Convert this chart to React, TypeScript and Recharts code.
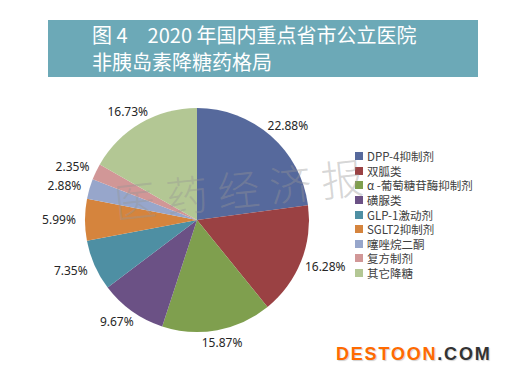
import React from 'react';
import { PieChart, Pie, Cell, Legend } from 'recharts';

const categories = ['DPP-4抑制剂', '双胍类', 'α -葡萄糖苷酶抑制剂', '磺脲类', 'GLP-1激动剂', 'SGLT2抑制剂', '噻唑烷二酮', '复方制剂', '其它降糖'];
const shares = [22.88, 16.28, 15.87, 9.67, 7.35, 5.99, 2.88, 2.35, 16.73];
const colors = ['#56699c', '#9a4143', '#7f9f4e', '#6b5185', '#4e8fa3', '#d5843d', '#97a6cb', '#d19797', '#b3c794'];
const titleLines = ['图 4　2020 年国内重点省市公立医院', '非胰岛素降糖药格局'];

const data = categories.map((name, i) => ({ name, value: shares[i] }));

const RADIAN = Math.PI / 180;

const renderLabel = (props: any) => {
  const { cx, cy, midAngle, outerRadius, value } = props;
  const dx = Math.cos(-midAngle * RADIAN);
  const dy = Math.sin(-midAngle * RADIAN);
  const r = outerRadius + 6;
  const w = 40;
  const h = 14;
  const x = cx + r * dx + (dx * w) / 2;
  const y = cy + r * dy + (dy * h) / 2;
  return (
    <text x={x} y={y} textAnchor="middle" dominantBaseline="central" fill="#262626" fontSize={12} fontFamily="'Noto Sans', sans-serif">
      {value.toFixed(2)}%
    </text>
  );
};

const renderLegend = (props: any) => {
  const payload = [...(props.payload || [])].sort(
    (a: any, b: any) => categories.indexOf(a.value) - categories.indexOf(b.value)
  );
  return (
    <div style={{ fontFamily: "'Noto Sans CJK SC', sans-serif", fontSize: 11.5, color: '#404040' }}>
      {payload.map((entry: any, i: number) => (
        <div key={i} style={{ display: 'flex', alignItems: 'center', height: 14.6, whiteSpace: 'nowrap' }}>
          <span style={{ display: 'inline-block', width: 8, height: 8, background: entry.color, marginRight: 4 }} />
          <span>{entry.value}</span>
        </div>
      ))}
    </div>
  );
};

export default function App() {
  return (
    <div style={{ position: 'absolute', left: 0, top: 0, width: 507, height: 381, background: '#fff', overflow: 'hidden' }}>
      <div
        style={{
          position: 'absolute',
          left: 48,
          top: 20,
          width: 430,
          height: 57,
          background: '#6ca9b7',
          color: '#fff',
          fontFamily: "'Noto Sans CJK SC', sans-serif",
          fontSize: 20,
          lineHeight: '27px',
          paddingLeft: 44,
          paddingTop: 1,
          boxSizing: 'border-box',
          whiteSpace: 'pre',
        }}
      >
        {titleLines.map((t, i) => (
          <div key={i}>{t}</div>
        ))}
      </div>
      <div style={{ position: 'absolute', left: 0, top: 0 }}>
        <PieChart width={507} height={381}>
          <Pie
            data={data}
            dataKey="value"
            nameKey="name"
            cx={192}
            cy={215}
            outerRadius={112}
            startAngle={90}
            endAngle={-270}
            stroke="none"
            label={renderLabel}
            labelLine={false}
            isAnimationActive={false}
          >
            {data.map((d, i) => (
              <Cell key={d.name} fill={colors[i]} />
            ))}
          </Pie>
          <Legend
            layout="vertical"
            itemSorter={null as any}
            content={renderLegend}
            wrapperStyle={{ position: 'absolute', left: 355, top: 149, width: 150 }}
          />
        </PieChart>
      </div>
      <div
        style={{
          position: 'absolute',
          left: 114,
          top: 170,
          fontFamily: "'Noto Sans CJK SC', sans-serif",
          fontWeight: 300,
          fontSize: 42,
          letterSpacing: 10,
          color: 'rgba(150,150,150,0.4)',
          transform: 'rotate(-6deg)',
          transformOrigin: 'left center',
          whiteSpace: 'nowrap',
          pointerEvents: 'none',
        }}
      >
        医药经济报
      </div>
      <div
        style={{
          position: 'absolute',
          left: 336,
          top: 344,
          fontFamily: "'Liberation Sans', Arial, sans-serif",
          fontWeight: 'bold',
          fontSize: 18,
          letterSpacing: 1.8,
          textShadow: '1px 1px 1px #d0d0d0',
          whiteSpace: 'nowrap',
        }}
      >
        <span style={{ color: '#ff6a00' }}>DESTOON</span>
        <span style={{ color: '#333' }}>.COM</span>
      </div>
    </div>
  );
}
